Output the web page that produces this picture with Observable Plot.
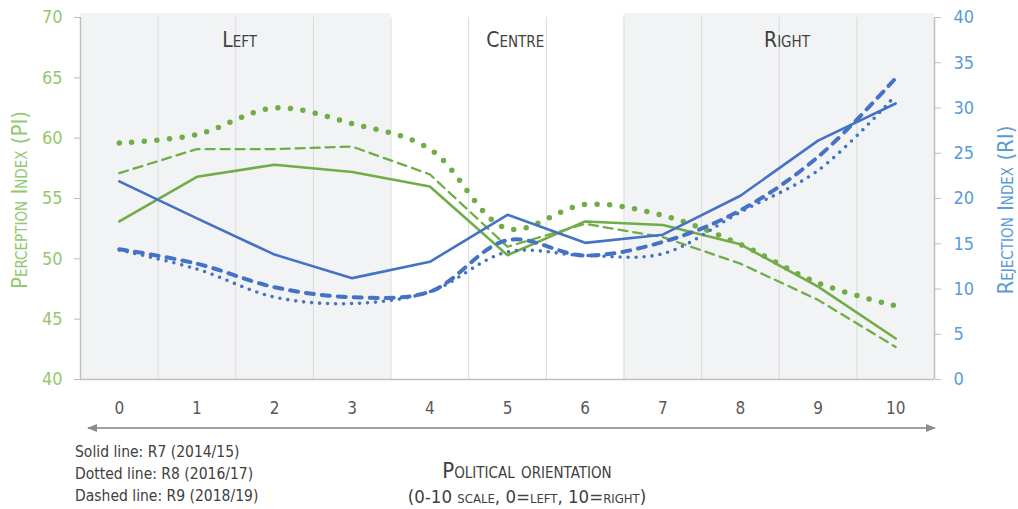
<!DOCTYPE html>
<html>
<head>
<meta charset="utf-8">
<script src="https://cdn.jsdelivr.net/npm/d3@7"></script>
<script src="https://cdn.jsdelivr.net/npm/@observablehq/plot@0.6"></script>
<style>
  html, body { margin: 0; padding: 0; background: #ffffff; }
  #chart { width: 1018px; height: 509px; }
</style>
</head>
<body>
<div id="chart"></div>
<script>
// ---- data ----
const orientation = [0, 1, 2, 3, 4, 5, 6, 7, 8, 9, 10];
// Perception Index (left axis)
const piR7 = [53.1, 56.8, 57.8, 57.2, 56.0, 50.3, 53.1, 52.8, 51.2, 47.7, 43.4];
const piR8 = [59.6, 60.3, 62.5, 61.2, 59.1, 52.5, 54.5, 53.6, 51.2, 48.0, 46.1];
const piR9 = [57.1, 59.1, 59.1, 59.3, 57.0, 51.0, 52.9, 51.8, 49.6, 46.6, 42.7];
// Rejection Index (right axis)
const riR7 = [21.9, 17.8, 13.8, 11.2, 13.0, 18.2, 15.1, 16.0, 20.3, 26.4, 30.5];
const riR8 = [14.3, 12.2, 9.1, 8.4, 9.7, 14.1, 13.7, 13.9, 18.5, 23.1, 31.4];
const riR9 = [14.4, 12.8, 10.2, 9.1, 9.7, 15.4, 13.7, 15.2, 18.7, 24.6, 33.3];
const piTicks = [40, 45, 50, 55, 60, 65, 70];
const riTicks = [0, 5, 10, 15, 20, 25, 30, 35, 40];
const xTicks = orientation;
const zones = [
  {name: "Left", from: -0.5, to: 3.5, mid: 1.55, shaded: true},
  {name: "Centre", from: 3.5, to: 6.5, mid: 5.1, shaded: false},
  {name: "Right", from: 6.5, to: 10.5, mid: 8.6, shaded: true}
];
const gridX = [0.5, 1.5, 2.5, 3.5, 4.5, 5.5, 6.5, 7.5, 8.5, 9.5];
const legendLines = ["Solid line: R7 (2014/15)", "Dotted line: R8 (2016/17)", "Dashed line: R9 (2018/19)"];

// ---- helpers ----
const PI_MIN = 40, PI_MAX = 70, RI_MIN = 0, RI_MAX = 40;
const riToPi = v => PI_MIN + (v - RI_MIN) * (PI_MAX - PI_MIN) / (RI_MAX - RI_MIN);
const piToRi = v => RI_MIN + (v - PI_MIN) * (RI_MAX - RI_MIN) / (PI_MAX - PI_MIN);
const rows = (vals, conv) => orientation.map((x, i) => ({x, y: conv ? conv(vals[i]) : vals[i]}));

const GREEN = "#70ad47", BLUE = "#4472c4";
const GREEN_TXT = "#92c86e", BLUE_TXT = "#5b9bd5";
const GRAY_TXT = "#595959";
const FONT = "'Liberation Sans Narrow', 'DejaVu Sans Condensed', 'Arial Narrow', 'Roboto', sans-serif";

const plot = Plot.plot({
  width: 1018,
  height: 509,
  marginLeft: 80,
  marginRight: 84,
  marginTop: 17,
  marginBottom: 130,
  x: {domain: [-0.5, 10.5]},
  y: {domain: [PI_MIN, PI_MAX]},
  style: {fontFamily: FONT, background: "#ffffff", overflow: "visible"},
  marks: [
    Plot.rect(zones.filter(z => z.shaded), {x1: "from", x2: "to", y1: PI_MIN, y2: PI_MAX + 0.33, fill: "#f2f3f5"}),
    Plot.ruleX(gridX, {y1: PI_MIN, y2: PI_MAX, stroke: "#dcdcdc", strokeWidth: 1}),
    // axis lines
    Plot.ruleX([-0.5], {y1: PI_MIN, y2: PI_MAX, stroke: "#bfbfbf", strokeWidth: 1.5}),
    Plot.ruleX([10.5], {y1: PI_MIN, y2: PI_MAX, stroke: "#bfbfbf", strokeWidth: 1.5}),
    Plot.ruleY([PI_MIN], {x1: -0.5, x2: 10.5, stroke: "#bfbfbf", strokeWidth: 1.5}),
    // left axis
    Plot.axisY({ticks: piTicks, tickSize: 6, stroke: "#bfbfbf", tickFormat: () => "", label: null}),
    Plot.axisY({ticks: piTicks, tickSize: 0, tickPadding: 18, fill: GREEN_TXT, fontSize: 18, label: null}),
    // right axis
    Plot.axisY({anchor: "right", ticks: riTicks.map(riToPi), tickSize: 6, stroke: "#bfbfbf", tickFormat: () => "", label: null}),
    Plot.axisY({anchor: "right", ticks: riTicks.map(riToPi), tickSize: 0, tickPadding: 19, fill: BLUE_TXT, fontSize: 18,
      tickFormat: d => String(Math.round(piToRi(d))), label: null}),
    // x axis labels
    Plot.axisX({ticks: xTicks, tickSize: 0, tickPadding: 22, fill: GRAY_TXT, fontSize: 17, label: null}),
    // zone labels
    Plot.text(zones, {x: "mid", y: PI_MAX, dy: 23, text: "name", fill: "#404040", fontSize: 21,
      fontVariant: "small-caps"}),
    // Perception index (green)
    Plot.line(rows(piR9), {x: "x", y: "y", stroke: GREEN, strokeWidth: 2.3, strokeDasharray: "9,6"}),
    Plot.line(rows(piR8), {x: "x", y: "y", stroke: GREEN, strokeWidth: 5.5, strokeDasharray: "0,12.6", strokeLinecap: "round", curve: "catmull-rom"}),
    Plot.line(rows(piR7), {x: "x", y: "y", stroke: GREEN, strokeWidth: 2.6}),
    // Rejection index (blue)
    Plot.line(rows(riR9, riToPi), {x: "x", y: "y", stroke: BLUE, strokeWidth: 4, strokeDasharray: "8,8", strokeLinecap: "round", curve: "catmull-rom"}),
    Plot.line(rows(riR8, riToPi), {x: "x", y: "y", stroke: BLUE, strokeWidth: 3.6, strokeDasharray: "0,8", strokeLinecap: "round", curve: "catmull-rom"}),
    Plot.line(rows(riR7, riToPi), {x: "x", y: "y", stroke: BLUE, strokeWidth: 2.6})
  ]
});

document.getElementById("chart").appendChild(plot);

// ---- decorations (titles, arrow, notes) ----
const svg = d3.select(plot);
const xs = plot.scale("x"), ys = plot.scale("y");
const xl = xs.apply(-0.5), xr = xs.apply(10.5);
const yTop = ys.apply(PI_MAX), yBot = ys.apply(PI_MIN);
const yMid = (yTop + yBot) / 2;

svg.append("text")
  .attr("transform", `translate(19,${yMid + 2}) rotate(-90)`)
  .attr("text-anchor", "middle").attr("dominant-baseline", "central")
  .attr("fill", GREEN_TXT).attr("font-size", 22).style("font-variant", "small-caps")
  .text("Perception Index (PI)");

svg.append("text")
  .attr("transform", `translate(1005,${yMid + 12}) rotate(-90)`)
  .attr("text-anchor", "middle").attr("dominant-baseline", "central")
  .attr("fill", BLUE_TXT).attr("font-size", 22).style("font-variant", "small-caps")
  .text("Rejection Index (RI)");

// double-headed arrow
const ay = yBot + 49;
const defs = svg.append("defs");
defs.append("marker").attr("id", "ah").attr("viewBox", "0 0 10 10")
  .attr("refX", 9).attr("refY", 5).attr("markerWidth", 10).attr("markerHeight", 10)
  .attr("markerUnits", "userSpaceOnUse").attr("orient", "auto-start-reverse")
  .append("path").attr("d", "M0,1 L10,5 L0,9 Z").attr("fill", "#8c8c8c");
svg.append("line")
  .attr("x1", xl + 8).attr("x2", xr + 1).attr("y1", ay).attr("y2", ay)
  .attr("stroke", "#a0a0a0").attr("stroke-width", 2)
  .attr("marker-start", "url(#ah)").attr("marker-end", "url(#ah)");

// notes
legendLines.forEach((t, i) => {
  svg.append("text").attr("x", 75).attr("y", 452 + i * 22)
    .attr("text-anchor", "start")
    .attr("dominant-baseline", "central")
    .attr("fill", "#404040").attr("font-size", 15.5).text(t);
});

const cx = (xl + xr) / 2 + 20;
svg.append("text").attr("x", cx).attr("y", 470).attr("text-anchor", "middle")
  .attr("dominant-baseline", "central").attr("fill", "#404040").attr("font-size", 22)
  .style("font-variant", "small-caps").text("Political orientation");
svg.append("text").attr("x", cx).attr("y", 496).attr("text-anchor", "middle")
  .attr("dominant-baseline", "central").attr("fill", "#404040").attr("font-size", 18.5)
  .style("font-variant", "small-caps").text("(0-10 scale, 0=left, 10=right)");
</script>
</body>
</html>
